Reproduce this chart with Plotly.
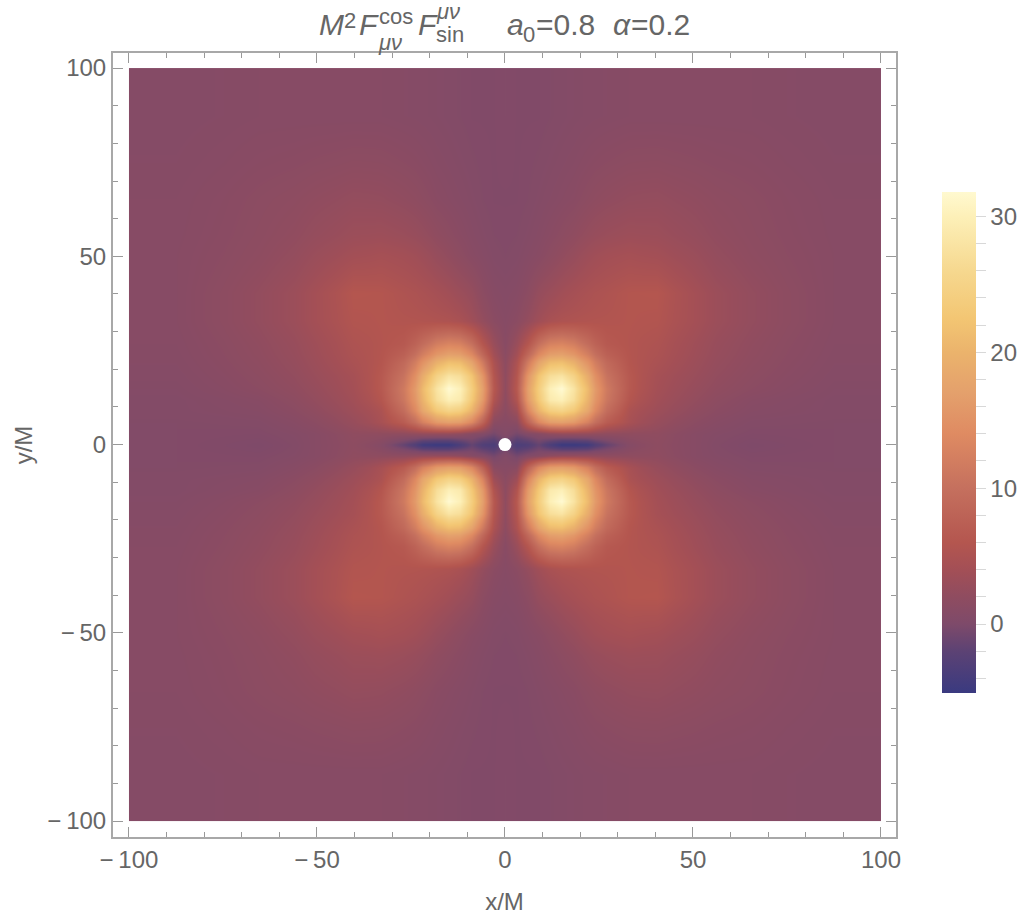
import plotly.graph_objects as go

# cell edges on the positive half of each axis (the grid is finer near the centre)
edges_pos = [1.5, 4.5, 7.5, 10.5, 13.5, 16.5, 20, 24, 30, 36, 45, 56, 75, 100]

# values for the quadrant x>=0, y>=0, by colour.
# first row is y=0, first column is x=0. The picture is near symmetric, so
# the other three quadrants are this one mirrored.
z_quadrant = [
    [-1.0, -3.5, -3.0, -1.5, -3.5, -5.0, -5.0, -4.5, -1.5, 0.8, 1.8, 1.0, 0.1, 0.5],
    [0.6, -0.5, 0.5, 1.0, 2.0, 2.5, 2.5, 2.5, 2.0, 2.0, 2.0, 1.0, 0.4, 0.5],
    [1.0, 1.5, 8.0, 13.5, 16.5, 17.0, 16.0, 12.5, 7.0, 4.5, 2.8, 1.5, 0.6, 0.5],
    [1.5, 3.5, 13.0, 20.0, 24.0, 25.0, 23.0, 18.0, 9.5, 5.0, 3.4, 2.0, 0.9, 0.6],
    [1.8, 5.5, 16.0, 23.0, 29.0, 30.0, 27.0, 20.0, 11.0, 6.0, 3.8, 2.4, 1.1, 0.6],
    [2.0, 6.5, 17.0, 24.0, 30.0, 32.0, 28.0, 21.0, 11.5, 6.5, 4.1, 2.7, 1.5, 0.7],
    [2.0, 6.0, 15.5, 22.5, 27.0, 28.0, 25.0, 19.0, 10.5, 6.5, 4.3, 3.0, 1.7, 0.8],
    [1.8, 5.0, 11.5, 17.5, 21.0, 21.5, 19.5, 15.0, 9.0, 6.0, 4.8, 3.3, 1.9, 0.9],
    [1.2, 3.0, 6.0, 10.0, 12.5, 13.0, 12.0, 9.5, 6.5, 5.8, 5.2, 3.6, 2.1, 1.0],
    [1.0, 1.5, 2.5, 3.7, 4.7, 5.2, 5.4, 5.6, 5.7, 5.9, 5.7, 4.1, 2.4, 1.1],
    [0.8, 1.0, 1.6, 2.6, 3.2, 3.8, 4.3, 4.8, 5.3, 5.9, 6.0, 4.1, 2.4, 1.1],
    [0.5, 0.6, 0.9, 1.2, 1.7, 2.2, 2.7, 3.4, 4.0, 4.3, 4.0, 3.1, 1.9, 1.1],
    [0.4, 0.4, 0.5, 0.7, 0.9, 1.1, 1.3, 1.7, 2.1, 2.4, 2.5, 2.1, 1.6, 1.0],
    [0.5, 0.4, 0.4, 0.4, 0.5, 0.6, 0.7, 0.8, 0.9, 1.0, 1.0, 1.0, 1.0, 0.8],
]

bar_ticks = [-4, -2, 0, 2, 4, 6, 8, 10, 12, 14, 16, 18, 20, 22, 24, 26, 28, 30]
bar_labels = ["" if v % 10 else str(v) for v in bar_ticks]
axis_ticks = [-100, -50, 0, 50, 100]
axis_labels = ["\u2212\u2009100", "\u2212\u200950", "0", "50", "100"]

zmin = -5.07
zmax = 31.8

# colour stops as (value, colour)
color_stops = [
    (-5.07, "#3a3a80"), (-2, "#5c4274"), (0, "#7e4a6a"), (2, "#8f4c60"),
    (4, "#a34f56"), (6, "#b4564f"), (10, "#c5705e"), (14, "#df8b62"),
    (17, "#e4a06c"), (20, "#ebb36c"), (22.5, "#f3c673"), (26, "#f6d88f"),
    (30, "#fdf0b8"), (31.8, "#fff9d0"),
]
colorscale = [[(v - zmin) / (zmax - zmin), c] for v, c in color_stops]

edges = [-e for e in reversed(edges_pos)] + edges_pos
z = [row[:0:-1] + row for row in z_quadrant[:0:-1] + z_quadrant]

gray = "#666666"
line_gray = "#a8a8a8"
font = "Liberation Sans"

fig = go.Figure()
fig.add_trace(go.Heatmap(
    x=edges,
    y=edges,
    z=z,
    zmin=zmin,
    zmax=zmax,
    zsmooth="best",
    colorscale=colorscale,
    colorbar=dict(
        thickness=34,
        thicknessmode="pixels",
        len=501,
        lenmode="pixels",
        x=1.0587,
        xanchor="left",
        xpad=0,
        y=0.5033,
        yanchor="middle",
        ypad=0,
        outlinewidth=0,
        tickmode="array",
        tickvals=bar_ticks,
        ticktext=bar_labels,
        ticks="outside",
        ticklen=10,
        tickwidth=1,
        tickcolor="#d8d8d8",
        tickfont=dict(family=font, size=24, color=gray),
    ),
))
# the hole at the origin
fig.add_trace(go.Scatter(
    x=[0], y=[0], mode="markers",
    marker=dict(color="white", size=13),
    showlegend=False,
))

axis_style = dict(
    range=[-104.25, 104.0],
    tickmode="array",
    tickvals=axis_ticks,
    ticktext=axis_labels,
    ticks="inside",
    ticklen=10,
    tickwidth=1,
    tickcolor="#999999",
    minor=dict(dtick=10, ticks="inside", ticklen=5, tickcolor="#999999", showgrid=False),
    showgrid=False,
    zeroline=False,
    showline=True,
    linecolor=line_gray,
    linewidth=2,
    mirror="ticks",
    automargin=False,
    tickfont=dict(family=font, size=24, color=gray),
)
fig.update_xaxes(**axis_style)
fig.update_yaxes(**axis_style)
fig.update_xaxes(title=dict(text="x/M", font=dict(family=font, size=24, color=gray), standoff=21))
fig.update_yaxes(title=dict(text="y/M", font=dict(family=font, size=24, color=gray), standoff=8))


def title_piece(text, px, py, size=30, italic=False):
    # px, py are page pixels; the plot box runs 113-896 across and 53-837 down
    fig.add_annotation(
        text=f"<i>{text}</i>" if italic else text,
        xref="paper", yref="paper",
        x=(px - 113) / 783, y=(837 - py) / 784,
        xanchor="left", yanchor="middle",
        showarrow=False,
        font=dict(family=font, size=size, color=gray),
    )


title_piece("M", 317, 25, italic=True)
title_piece("2", 342, 20, size=22)
title_piece("F", 357, 25, italic=True)
title_piece("cos", 377, 16, size=22)
title_piece("\u03bc\u03bd", 376, 42, size=22, italic=True)
title_piece("F", 416, 25, italic=True)
title_piece("\u03bc\u03bd", 434, 12, size=22, italic=True)
title_piece("sin", 434, 35, size=22)
title_piece("a", 505, 25, italic=True)
title_piece("0", 521, 35, size=22)
title_piece("=0.8", 534, 25)
title_piece("\u03b1", 611, 25, italic=True)
title_piece("=0.2", 629, 25)

fig.update_layout(
    width=1032,
    height=920,
    margin=dict(l=113, r=136, t=53, b=83),
    paper_bgcolor="white",
    plot_bgcolor="white",
    showlegend=False,
)

fig.write_html("out.html", config={"displayModeBar": False},
               post_script="document.body.style.margin='0';")
